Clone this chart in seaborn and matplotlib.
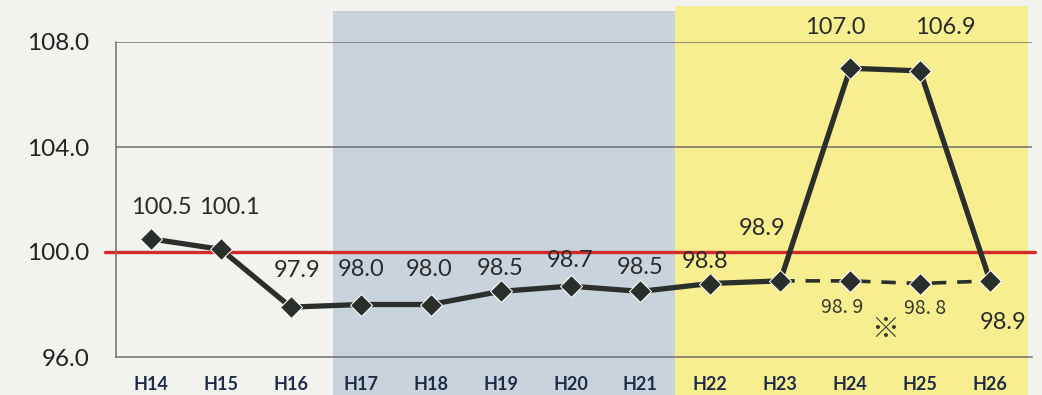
import numpy as np
import matplotlib
matplotlib.use("Agg")
import matplotlib.pyplot as plt
import seaborn as sns

# Fiscal years (Heisei) and index values
years = ["H14", "H15", "H16", "H17", "H18", "H19", "H20",
         "H21", "H22", "H23", "H24", "H25", "H26"]
index_values = [100.5, 100.1, 97.9, 98.0, 98.0, 98.5, 98.7,
                98.5, 98.8, 98.9, 107.0, 106.9, 98.9]

# Alternative figures for H23-H26 (dashed)
alt_years = ["H23", "H24", "H25", "H26"]
alt_values = [98.9, 98.9, 98.8, 98.9]

baseline = 100.0
y_ticks = [96.0, 100.0, 104.0, 108.0]

# label offsets in pixels (dx, dy) for each point
label_offsets = [(10, 31), (8, 42), (6, 37), (0, 35), (-2, 35), (0, 23),
                 (0, 26), (0, 24), (-5, 22), (-18, 52), (-15, 41),
                 (25, 43), (13, -42)]
alt_label_offsets = {"H24": (-8, -27), "H25": (5, -25)}

sns.set_style("white")
plt.rcParams["font.family"] = ["Lato", "DejaVu Sans"]

fig = plt.figure(figsize=(10.42, 3.95), dpi=100, facecolor="#f2f2ef")
ax = fig.add_axes([116 / 1042, 38 / 395, (1032 - 116) / 1042, 315 / 395])
ax.set_facecolor("none")

x = np.arange(len(years))
pos = {y: i for i, y in enumerate(years)}
ax.set_xlim(-0.5, 12.6)
ax.set_ylim(96, 108)

# shaded periods
ax.axvspan(2.6, 7.5, ymin=-0.13, ymax=1.10, color="#c9d3dc", clip_on=False, zorder=0, lw=0)
ax.axvspan(7.5, 12.54, ymin=-0.13, ymax=1.115, color="#f7ef8f", clip_on=False, zorder=0, lw=0)

# grid lines
for yv in y_ticks[1:]:
    ax.axhline(yv, color="#6f7070", lw=1.1, zorder=1)

# baseline
ax.plot([-0.66, 12.65], [baseline, baseline], color="#d42a2a", lw=2.4,
        clip_on=False, zorder=2)

line_color = "#2b2f2b"
xa = [pos[y] for y in alt_years]
sns.lineplot(x=xa, y=alt_values, ax=ax, color=line_color, lw=2.6,
             linestyle=(0, (4, 3)), marker="D", markersize=11,
             markevery=[1, 2], zorder=3)
sns.lineplot(x=x, y=index_values, ax=ax, color=line_color, lw=3.8,
             marker="D", markersize=11, zorder=4)

# value labels
for xi, v, (dx, dy) in zip(x, index_values, label_offsets):
    ax.annotate(f"{v:.1f}", (xi, v), xytext=(dx, dy), textcoords="offset pixels",
                ha="center", va="center", fontsize=17, color="#2a2a2a", zorder=5)
for yr, v in zip(alt_years, alt_values):
    if yr in alt_label_offsets:
        dx, dy = alt_label_offsets[yr]
        ax.annotate(f"{v:.1f}".replace(".", ". "), (pos[yr], v), xytext=(dx, dy),
                    textcoords="offset pixels", ha="center", va="center",
                    fontsize=14, color="#3a3a2c",
                    family=["Noto Sans CJK JP", "DejaVu Sans"], zorder=5)
ax.annotate("※", (10.5, 96), xytext=(0, 27), textcoords="offset pixels",
            ha="center", va="center", fontsize=20, color="#3a3a2c",
            family=["Noto Sans CJK JP", "DejaVu Sans"])

# axes styling
for side in ["top", "right"]:
    ax.spines[side].set_visible(False)
for side in ["left", "bottom"]:
    ax.spines[side].set_color("#6f7070")
    ax.spines[side].set_linewidth(1.1)

ax.set_yticks(y_ticks)
ax.set_yticklabels([f"{v:.1f}" for v in y_ticks])
ax.tick_params(axis="y", length=7, width=1.1, color="#6f7070",
               labelsize=17.5, labelcolor="#222222", pad=12)

ax.set_xticks(x)
ax.set_xticklabels(years, fontweight="bold")
ax.set_xticks(np.arange(-0.5, 12.5, 1.0), minor=True)
ax.tick_params(axis="x", which="major", length=0, labelsize=13,
               labelcolor="#1f2b48", pad=14)
ax.tick_params(axis="x", which="minor", length=5, width=1.1, color="#6f7070",
               direction="out")
ax.set_xlabel("")
ax.set_ylabel("")
ax.legend_ = None

fig.savefig("out.png", dpi=100, facecolor=fig.get_facecolor())
